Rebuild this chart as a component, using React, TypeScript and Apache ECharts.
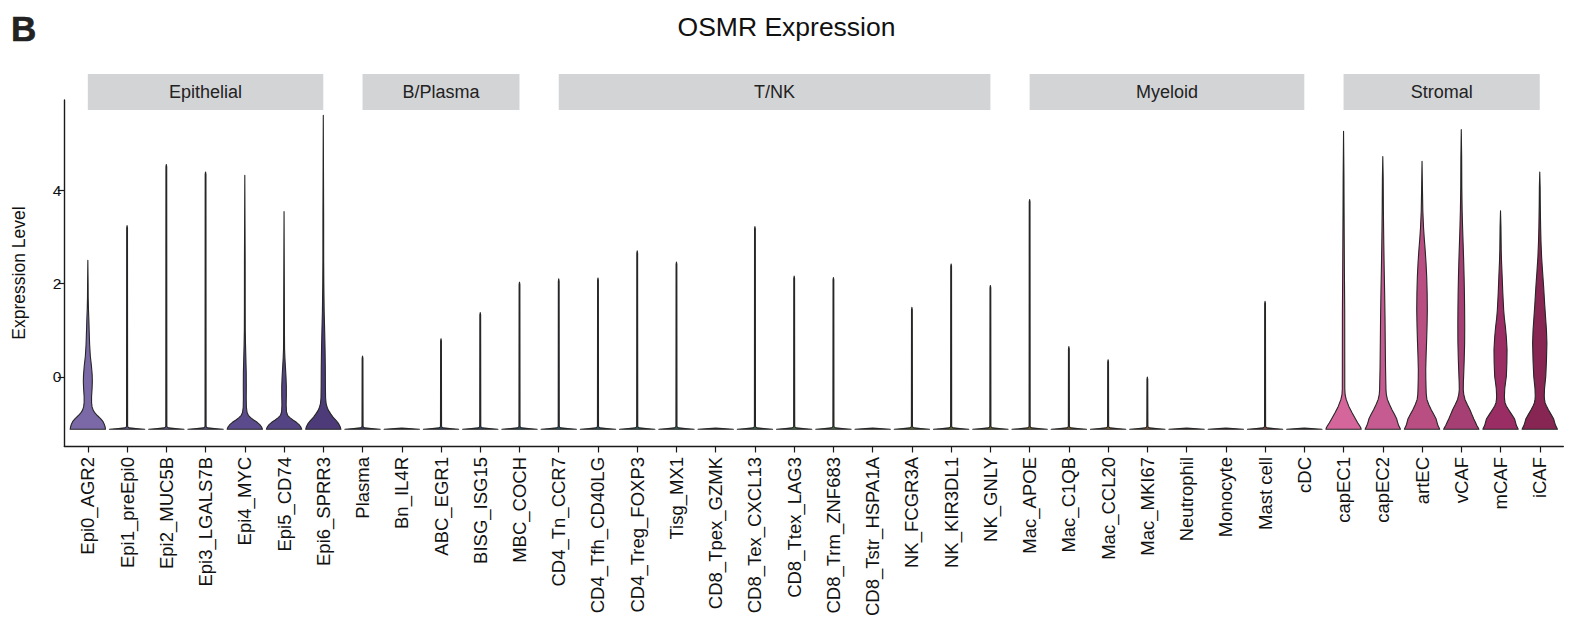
import React, { useEffect, useRef } from "react";
import * as echarts from "echarts";

// ---------------- data ----------------
const categories = [
  "Epi0_AGR2", "Epi1_preEpi0", "Epi2_MUC5B", "Epi3_LGALS7B", "Epi4_MYC", "Epi5_CD74", "Epi6_SPRR3",
  "Plasma", "Bn_IL4R", "ABC_EGR1", "BISG_ISG15", "MBC_COCH",
  "CD4_Tn_CCR7", "CD4_Tfh_CD40LG", "CD4_Treg_FOXP3", "Tisg_MX1", "CD8_Tpex_GZMK", "CD8_Tex_CXCL13",
  "CD8_Ttex_LAG3", "CD8_Trm_ZNF683", "CD8_Tstr_HSPA1A", "NK_FCGR3A", "NK_KIR3DL1", "NK_GNLY",
  "Mac_APOE", "Mac_C1QB", "Mac_CCL20", "Mac_MKI67", "Neutrophil", "Monocyte", "Mast cell", "cDC",
  "capEC1", "capEC2", "artEC", "vCAF", "mCAF", "iCAF",
];

const groupNames = ["Epithelial", "B/Plasma", "T/NK", "Myeloid", "Stromal"];
const groupFirst = [0, 7, 12, 24, 32];
const groupLast = [6, 11, 23, 31, 37];

const fillColors = [
  "#7a69a6", "#7262a0", "#6b5b99", "#645493", "#5c4b8c", "#554484", "#4c3b78",
  "#3a3f6e", "#374570", "#344b72", "#315172", "#2f5772",
  "#2d5d70", "#2c626c", "#2d6766", "#306b5f", "#356e57", "#3b714f", "#427347", "#4a7440",
  "#54743a", "#5e7335", "#687131", "#726e2e",
  "#7c6a2d", "#84652e", "#8b6031", "#905a35", "#93543a", "#955040", "#964d47", "#964c50",
  "#d4669c", "#c65b91", "#b84e82", "#a63f74", "#9a2d63", "#872653",
];

// Lowest expression level (all zero-expression cells)
const floorLevel = -1.12;

// Maximum expression level for the thin ("stem") violins; null = no expressing cells
const stemTops: (number | null)[] = [
  null, 3.24, 4.55, 4.39, null, null, null,
  0.45, null, 0.82, 1.38, 2.03,
  2.1, 2.12, 2.7, 2.46, null, 3.22, 2.16, 2.13, null, 1.49, 2.42, 1.96,
  3.8, 0.65, 0.37, 0.0, null, null, 1.62, null,
  null, null, null, null, null, null,
];

// Shape of the thin violins near the floor: [level, relative half-width]
const thinBase = [
  [-1.12, 1], [-1.104, 0.5], [-1.09, 0.14], [-1.075, 0.05], [-1.05, 0.03],
];
const thinStemWidth = 0.022;

// Full violin profiles: [expression level, relative half-width (1 = widest)]
const profileEpi0 = [
  [-1.12, 1], [-1.07, 0.98], [-1.01, 0.93], [-0.95, 0.85], [-0.89, 0.72], [-0.83, 0.55],
  [-0.77, 0.4], [-0.71, 0.3], [-0.64, 0.24], [-0.55, 0.21], [-0.42, 0.21], [-0.25, 0.24],
  [-0.1, 0.255], [0.05, 0.245], [0.25, 0.2], [0.45, 0.14], [0.7, 0.1], [1.0, 0.075],
  [1.2, 0.06], [1.45, 0.035], [1.7, 0.02], [2.0, 0.015], [2.5, 0],
];
const profileEpi4 = [
  [-1.12, 1], [-1.07, 0.95], [-1.02, 0.85], [-0.97, 0.7], [-0.92, 0.5], [-0.87, 0.33],
  [-0.82, 0.2], [-0.76, 0.13], [-0.65, 0.09], [-0.45, 0.08], [-0.2, 0.085], [0.1, 0.08],
  [0.4, 0.06], [0.7, 0.04], [1.0, 0.026], [1.5, 0.022], [2.5, 0.02], [4.32, 0],
];
const profileEpi5 = [
  [-1.12, 1], [-1.07, 0.95], [-1.02, 0.85], [-0.97, 0.7], [-0.92, 0.5], [-0.87, 0.33],
  [-0.82, 0.2], [-0.75, 0.14], [-0.6, 0.12], [-0.4, 0.13], [-0.2, 0.13], [0.0, 0.11],
  [0.2, 0.08], [0.4, 0.05], [0.6, 0.03], [0.9, 0.024], [1.5, 0.02], [3.54, 0],
];
const profileEpi6 = [
  [-1.12, 1], [-1.06, 0.95], [-1.0, 0.87], [-0.93, 0.72], [-0.86, 0.55], [-0.79, 0.42],
  [-0.72, 0.3], [-0.65, 0.22], [-0.57, 0.16], [-0.45, 0.13], [-0.2, 0.12], [0.2, 0.115],
  [0.6, 0.1], [0.95, 0.08], [1.4, 0.05], [2.0, 0.03], [2.5, 0.022], [3.5, 0.02], [5.6, 0],
];
const profileCapEC1 = [
  [-1.12, 1], [-1.09, 0.98], [-1.05, 0.92], [-0.98, 0.8], [-0.9, 0.68], [-0.77, 0.49],
  [-0.63, 0.3], [-0.48, 0.15], [-0.38, 0.09], [-0.25, 0.07], [0.3, 0.068], [1.4, 0.065],
  [2.2, 0.05], [2.85, 0.04], [3.56, 0.03], [4.3, 0.022], [5.26, 0],
];
const profileCapEC2 = [
  [-1.12, 1], [-1.09, 0.97], [-1.04, 0.9], [-0.97, 0.84], [-0.9, 0.79], [-0.8, 0.66],
  [-0.7, 0.52], [-0.59, 0.38], [-0.48, 0.26], [-0.37, 0.2], [-0.27, 0.18], [0.2, 0.155],
  [0.72, 0.14], [1.3, 0.125], [1.79, 0.105], [2.3, 0.08], [2.85, 0.057], [3.2, 0.045],
  [3.56, 0.035], [4.27, 0.022], [4.72, 0],
];
const profileArtEC = [
  [-1.12, 1], [-1.09, 0.97], [-1.04, 0.9], [-0.97, 0.85], [-0.9, 0.8], [-0.8, 0.66],
  [-0.7, 0.52], [-0.59, 0.38], [-0.48, 0.275], [-0.37, 0.24], [-0.27, 0.23], [-0.05, 0.215],
  [0.16, 0.21], [0.45, 0.23], [0.72, 0.255], [1.1, 0.285], [1.43, 0.3], [1.8, 0.29],
  [2.14, 0.265], [2.45, 0.225], [2.71, 0.18], [2.95, 0.13], [3.2, 0.085], [3.56, 0.045],
  [4.0, 0.025], [4.62, 0],
];
const profileVCAF = [
  [-1.12, 1], [-1.09, 0.96], [-1.04, 0.88], [-0.97, 0.8], [-0.9, 0.71], [-0.8, 0.6],
  [-0.7, 0.49], [-0.59, 0.34], [-0.48, 0.21], [-0.37, 0.14], [-0.27, 0.113], [-0.1, 0.12],
  [0.01, 0.133], [0.35, 0.165], [0.72, 0.19], [1.1, 0.195], [1.43, 0.19], [1.8, 0.178],
  [2.14, 0.16], [2.5, 0.135], [2.85, 0.105], [3.2, 0.075], [3.56, 0.05], [4.06, 0.03],
  [4.7, 0.022], [5.3, 0],
];
const profileMCAF = [
  [-1.12, 1], [-1.09, 0.97], [-1.04, 0.9], [-0.97, 0.85], [-0.9, 0.8], [-0.8, 0.63],
  [-0.7, 0.46], [-0.62, 0.33], [-0.55, 0.255], [-0.48, 0.23], [-0.41, 0.22], [-0.25, 0.24],
  [-0.1, 0.29], [0.01, 0.33], [0.3, 0.36], [0.58, 0.37], [0.85, 0.33], [1.08, 0.275],
  [1.25, 0.22], [1.43, 0.18], [1.8, 0.13], [2.14, 0.095], [2.45, 0.06], [2.71, 0.04],
  [3.2, 0.025], [3.56, 0],
];
const profileICAF = [
  [-1.12, 1], [-1.09, 0.97], [-1.04, 0.9], [-0.97, 0.84], [-0.9, 0.79], [-0.8, 0.64],
  [-0.7, 0.49], [-0.62, 0.38], [-0.55, 0.3], [-0.48, 0.27], [-0.41, 0.255], [-0.25, 0.27],
  [-0.1, 0.31], [0.01, 0.34], [0.35, 0.38], [0.72, 0.405], [1.0, 0.38], [1.22, 0.34],
  [1.55, 0.28], [1.93, 0.22], [2.25, 0.16], [2.57, 0.105], [2.9, 0.07], [3.2, 0.05],
  [3.7, 0.03], [4.06, 0.022], [4.39, 0],
];

const fullProfiles: Record<string, number[][]> = {
  Epi0_AGR2: profileEpi0,
  Epi4_MYC: profileEpi4,
  Epi5_CD74: profileEpi5,
  Epi6_SPRR3: profileEpi6,
  capEC1: profileCapEC1,
  capEC2: profileCapEC2,
  artEC: profileArtEC,
  vCAF: profileVCAF,
  mCAF: profileMCAF,
  iCAF: profileICAF,
};

const yTicks = [0, 2, 4];
const yMin = -1.477;
const yMax = 5.93;

function profileFor(i: number): number[][] {
  const name = categories[i];
  if (fullProfiles[name]) return fullProfiles[name];
  const top = stemTops[i];
  if (top === null) return [[floorLevel, 1], [floorLevel + 0.012, 0.6], [floorLevel + 0.028, 0]];
  return [...thinBase, [top - 0.05, thinStemWidth], [top, 0]];
}

const FONT = "'Liberation Sans', Arial, Helvetica, sans-serif";

export default function App() {
  const ref = useRef<HTMLDivElement>(null);

  useEffect(() => {
    if (!ref.current) return;
    const chart = echarts.init(ref.current, undefined, { renderer: "svg" });

    const violinData = categories.map((_, i) => {
      const p = profileFor(i);
      return [i, p[p.length - 1][0]];
    });
    const stripData = groupNames.map((_, k) => [groupFirst[k], groupLast[k], k]);

    const option: any = {
      animation: false,
      backgroundColor: "#ffffff",
      grid: { left: 64.3, top: 100, width: 1499, height: 346.7, containLabel: false },
      xAxis: {
        type: "value",
        min: -0.6,
        max: 37.6,
        splitLine: { show: false },
        axisLine: { show: true, onZero: false, lineStyle: { color: "#1a1a1a", width: 1.4 } },
        axisTick: {
          show: true,
          customValues: categories.map((_, i) => i),
          length: 6.5,
          lineStyle: { color: "#1a1a1a", width: 1.2 },
        },
        axisLabel: {
          show: true,
          customValues: categories.map((_, i) => i),
          formatter: (v: number) => categories[Math.round(v)] ?? "",
          rotate: 90,
          margin: 11,
          fontSize: 18.5,
          fontFamily: FONT,
          color: "#111",
        },
      },
      yAxis: {
        type: "value",
        min: yMin,
        max: yMax,
        name: "Expression Level",
        nameLocation: "middle",
        nameGap: 36,
        nameRotate: 90,
        nameTextStyle: { fontSize: 17.5, fontFamily: FONT, color: "#111" },
        splitLine: { show: false },
        axisLine: { show: true, onZero: false, lineStyle: { color: "#1a1a1a", width: 1.4 } },
        axisTick: {
          show: true,
          customValues: yTicks,
          length: 6.5,
          lineStyle: { color: "#1a1a1a", width: 1.2 },
        },
        axisLabel: {
          show: true,
          customValues: yTicks,
          margin: 3,
          fontSize: 15.5,
          fontFamily: FONT,
          color: "#111",
        },
      },
      graphic: [
        {
          type: "text",
          x: 786.5,
          y: 27,
          style: {
            text: "OSMR Expression",
            fontSize: 26.5,
            fontFamily: FONT,
            fill: "#111",
            align: "center",
            verticalAlign: "middle",
          },
        },
        {
          type: "text",
          x: 11,
          y: 28.5,
          style: {
            text: "B",
            fontSize: 35,
            fontWeight: "bold",
            fontFamily: FONT,
            fill: "#222",
            stroke: "#222",
            lineWidth: 0.6,
            align: "left",
            verticalAlign: "middle",
          },
        },
      ],
      series: [
        {
          type: "custom",
          name: "strips",
          clip: false,
          data: stripData,
          encode: { x: [0, 1] },
          renderItem: (params: any, api: any) => {
            const x1 = api.coord([api.value(0), 0])[0];
            const x2 = api.coord([api.value(1), 0])[0];
            const k = api.value(2);
            return {
              type: "group",
              children: [
                {
                  type: "rect",
                  shape: { x: x1, y: 74, width: x2 - x1, height: 36 },
                  style: { fill: "#d3d4d6" },
                },
                {
                  type: "text",
                  x: (x1 + x2) / 2,
                  y: 92,
                  style: {
                    text: groupNames[k],
                    fontSize: 18,
                    fontFamily: FONT,
                    fill: "#222",
                    align: "center",
                    verticalAlign: "middle",
                  },
                },
              ],
            };
          },
        },
        {
          type: "custom",
          name: "violins",
          clip: false,
          data: violinData,
          encode: { x: 0, y: 1 },
          renderItem: (params: any, api: any) => {
            const i = api.value(0);
            const prof = profileFor(i);
            const cx = api.coord([i, 0])[0];
            const half = api.size([1, 0])[0] * 0.45;
            const right = prof.map(([v, f]) => [cx + f * half, api.coord([i, v])[1]]);
            const left = prof
              .slice()
              .reverse()
              .map(([v, f]) => [cx - f * half, api.coord([i, v])[1]]);
            return {
              type: "polygon",
              shape: { points: [...right, ...left] },
              style: {
                fill: fillColors[i],
                stroke: "#262626",
                lineWidth: 1.1,
                lineJoin: "round",
              },
            };
          },
        },
      ],
    };

    chart.setOption(option);
    return () => chart.dispose();
  }, []);

  return (
    <div
      ref={ref}
      style={{ position: "fixed", left: 0, top: 0, width: 1585, height: 619, background: "#fff" }}
    />
  );
}
